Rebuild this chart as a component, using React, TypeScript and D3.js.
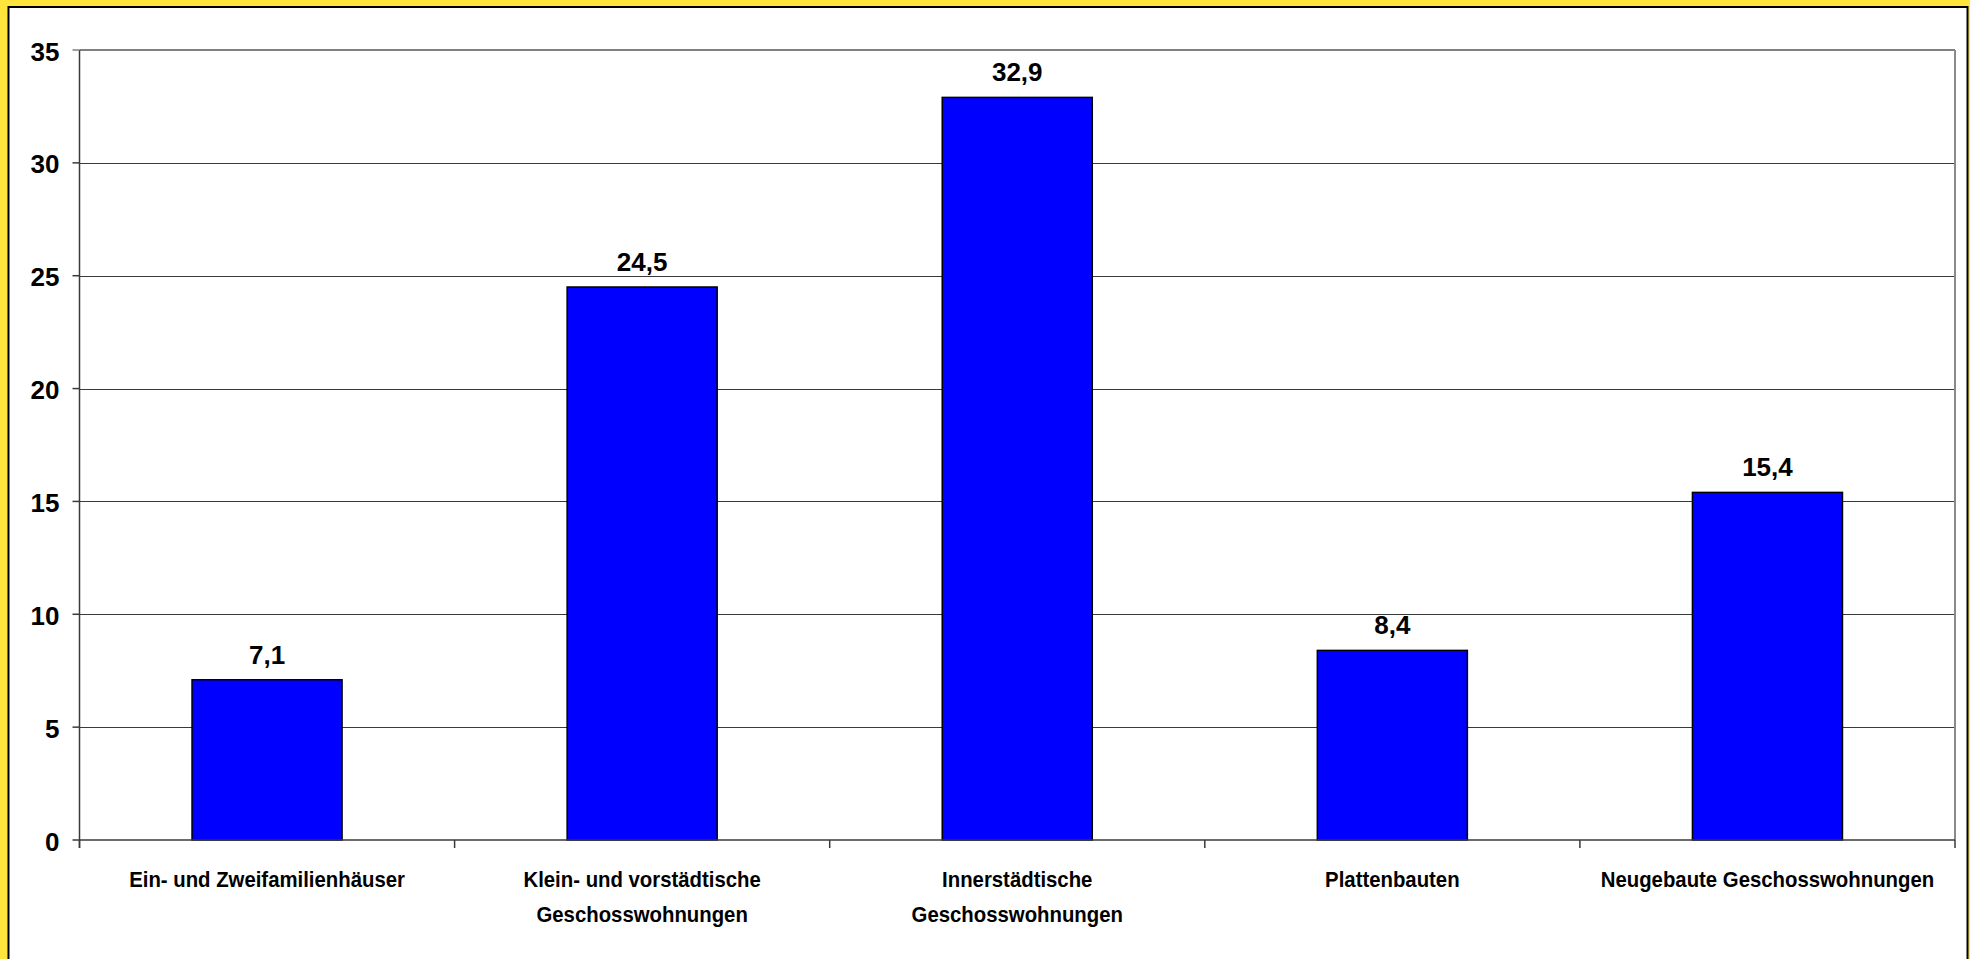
import React from "react";
import * as d3 from "d3";

// Anteil nach Wohnungstyp (Prozent)
const categories: string[][] = [
  ["Ein- und Zweifamilienhäuser"],
  ["Klein- und vorstädtische", "Geschosswohnungen"],
  ["Innerstädtische", "Geschosswohnungen"],
  ["Plattenbauten"],
  ["Neugebaute Geschosswohnungen"],
];
const values: number[] = [7.1, 24.5, 32.9, 8.4, 15.4];
const yTicks: number[] = [0, 5, 10, 15, 20, 25, 30, 35];

const WIDTH = 1970;
const HEIGHT = 959;
const plot = { left: 79.5, right: 1955, top: 50, bottom: 840 };
const FONT = "'Liberation Sans', Arial, Helvetica, sans-serif";

const deFormat = d3.formatLocale({
  decimal: ",",
  thousands: ".",
  grouping: [3],
  currency: ["", " €"],
}).format(".1f");

export default function App() {
  const keys = categories.map((c) => c.join(" "));
  const x = d3
    .scaleBand<string>()
    .domain(keys)
    .range([plot.left, plot.right])
    .paddingInner(0.6)
    .paddingOuter(0.3);
  const step = x.step();
  const y = d3.scaleLinear().domain([0, 35]).range([plot.bottom, plot.top]);

  const boundaries = d3.range(keys.length + 1).map((i) => plot.left + i * step);

  return (
    <svg
      width={WIDTH}
      height={HEIGHT}
      style={{ position: "absolute", left: 0, top: 0, display: "block" }}
    >
      {/* frame */}
      <rect x={0} y={0} width={WIDTH} height={HEIGHT} fill="#FFE53C" />
      <rect
        x={8.5}
        y={7}
        width={1959}
        height={HEIGHT}
        fill="#FFFFFF"
        stroke="#000000"
        strokeWidth={2}
      />

      {/* gridlines */}
      {yTicks
        .filter((t) => t > 0 && t < 35)
        .map((t) => (
          <line
            key={"g" + t}
            x1={plot.left}
            x2={plot.right}
            y1={Math.round(y(t)) + 0.5}
            y2={Math.round(y(t)) + 0.5}
            stroke="#3a3a3a"
            strokeWidth={1}
          />
        ))}

      {/* plot area border (top / right) */}
      <line x1={plot.left} x2={plot.right} y1={y(35)} y2={y(35)} stroke="#808080" strokeWidth={2} />
      <line x1={plot.right} x2={plot.right} y1={plot.top} y2={plot.bottom} stroke="#8a8a8a" strokeWidth={2} />

      {/* bars */}
      {values.map((v, i) => (
        <rect
          key={"b" + i}
          x={x(keys[i])}
          y={y(v)}
          width={x.bandwidth()}
          height={y(0) - y(v)}
          fill="#0000FF"
          stroke="#000000"
          strokeWidth={1.5}
        />
      ))}

      {/* value labels */}
      {values.map((v, i) => (
        <text
          key={"v" + i}
          x={(x(keys[i]) as number) + x.bandwidth() / 2}
          y={y(v) - 16}
          textAnchor="middle"
          fontFamily={FONT}
          fontWeight="bold"
          fontSize={26}
          fill="#000000"
        >
          {deFormat(v)}
        </text>
      ))}

      {/* y axis */}
      <line x1={plot.left} x2={plot.left} y1={plot.top} y2={plot.bottom + 8} stroke="#3a3a3a" strokeWidth={1.5} />
      {yTicks.map((t) => (
        <g key={"y" + t}>
          <line
            x1={plot.left - 7}
            x2={plot.left}
            y1={y(t)}
            y2={y(t)}
            stroke={t === 35 ? "#808080" : "#3a3a3a"}
            strokeWidth={1.5}
          />
          <text
            x={59.5}
            y={y(t) + 10.5}
            textAnchor="end"
            fontFamily={FONT}
            fontWeight="bold"
            fontSize={26}
            fill="#000000"
          >
            {t}
          </text>
        </g>
      ))}

      {/* x axis */}
      <line x1={plot.left} x2={plot.right} y1={plot.bottom} y2={plot.bottom} stroke="#3a3a3a" strokeWidth={1.5} />
      {boundaries.map((bx, i) => (
        <line
          key={"t" + i}
          x1={bx}
          x2={bx}
          y1={plot.bottom}
          y2={plot.bottom + 8}
          stroke="#3a3a3a"
          strokeWidth={1.5}
        />
      ))}
      {categories.map((lines, i) => {
        const cx = (x(keys[i]) as number) + x.bandwidth() / 2;
        return lines.map((line, j) => (
          <text
            key={"c" + i + "-" + j}
            transform={`translate(${cx},${886.5 + j * 35}) scale(0.885,1)`}
            textAnchor="middle"
            fontFamily={FONT}
            fontWeight="bold"
            fontSize={23}
            fill="#000000"
          >
            {line}
          </text>
        ));
      })}
    </svg>
  );
}
